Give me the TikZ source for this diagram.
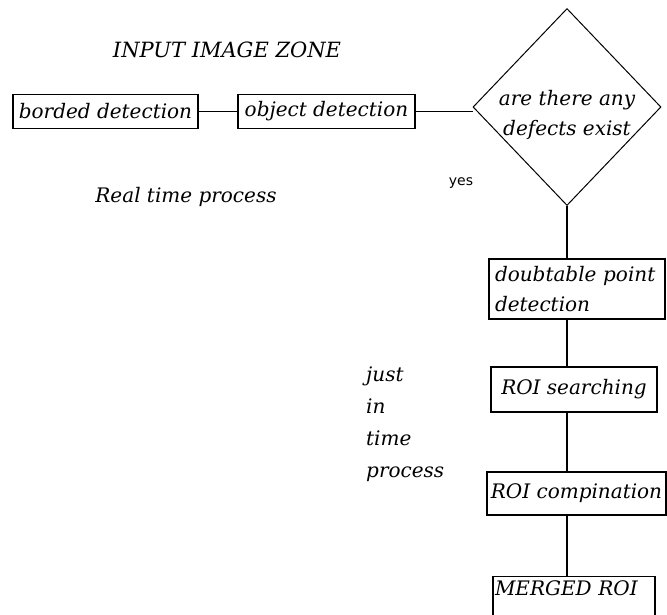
\documentclass[tikz,border=0pt]{standalone}
\usepackage{fontspec}
\setmainfont{DejaVu Serif}
\setsansfont{DejaVu Sans}
\usetikzlibrary{shapes.geometric}
\begin{document}
\begin{tikzpicture}[x=1pt,y=-1pt,
  txt/.style={font=\itshape\fontsize{20}{30}\selectfont},
  box/.style={draw, line width=1.3pt, inner sep=0pt, txt},
  decision/.style={diamond, draw, line width=1pt, inner sep=0pt},
  link/.style={line width=1.3pt},
  lbl/.style={inner sep=0pt, txt},
  small/.style={inner sep=0pt, font=\sffamily\fontsize{14}{16}\selectfont}]
\clip (0,0) rectangle (667,614);
\fill[white] (0,0) rectangle (667,614);

% top row
\node[lbl, font=\itshape\fontsize{21}{24}\selectfont] (zone) at (227,50) {INPUT IMAGE ZONE};
\node[box, minimum width=185, minimum height=34] (border) at (105.5,111.5) {borded detection};
\node[box, minimum width=177, minimum height=34] (object) at (326.5,111.5) {object detection};
\node[decision, minimum width=188, minimum height=197] (defects) at (567,107) {};
\node[lbl, align=center] (question) at (567,115) {are there any\\defects exist};

% side labels
\node[lbl] (realtime) at (186,197) {Real time process};
\node[small] (yes) at (461,183) {yes};
\node[lbl, anchor=west, align=left, font=\itshape\fontsize{20}{32}\selectfont] (jit) at (366,424) {just\\in\\time\\process};

% vertical chain
\node[box, minimum width=176, minimum height=60, align=left, text width=164] (doubt) at (577,289) {doubtable point\\detection};
\node[box, minimum width=166, minimum height=45] (search) at (574,389.5) {ROI searching};
\node[box, minimum width=179, minimum height=43] (combine) at (576.5,493.5) {ROI compination};
\node[box, minimum width=162, minimum height=48, anchor=north, align=left, text width=158, text depth=26] (merged) at (574,576) {MERGED ROI};

% connectors
\draw[link] (border.east) -- (object.west);
\draw[link] (object.east) -- (object.east -| defects.west);
\draw[link] (defects.south) -- (defects.south |- doubt.north);
\draw[link] (defects.south |- doubt.south) -- (defects.south |- search.north);
\draw[link] (defects.south |- search.south) -- (defects.south |- combine.north);
\draw[link] (defects.south |- combine.south) -- (defects.south |- merged.north);
\end{tikzpicture}
\end{document}
